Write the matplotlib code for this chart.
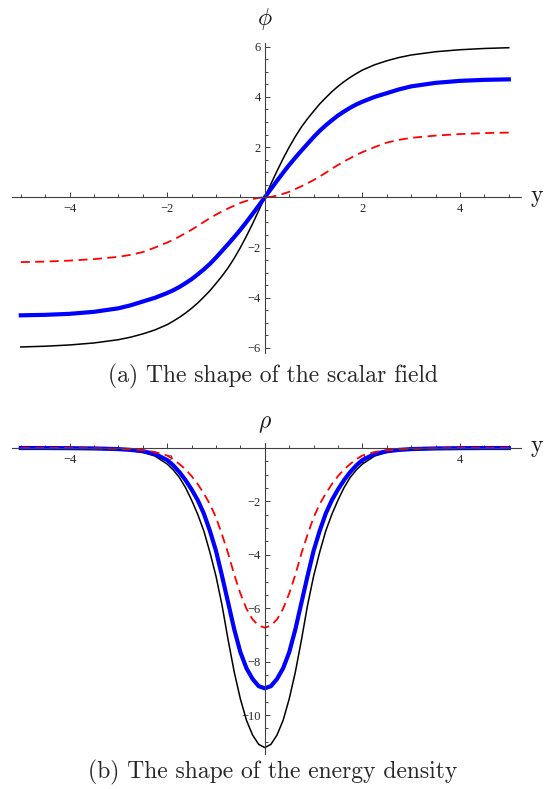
import matplotlib
matplotlib.use("Agg")
import matplotlib.pyplot as plt
from matplotlib.ticker import MultipleLocator, FixedLocator

plt.rcParams['mathtext.fontset'] = 'cm'

# sample positions along y
y_pts = [-5, -4.5, -4, -3.5, -3, -2.75, -2.5, -2.25, -2,
         -1.875, -1.75, -1.625, -1.5, -1.375, -1.25, -1.125, -1,
         -0.875, -0.75, -0.625, -0.5, -0.375, -0.25, -0.125, 0,
         0.125, 0.25, 0.375, 0.5, 0.625, 0.75, 0.875,
         1, 1.125, 1.25, 1.375, 1.5, 1.625, 1.75, 1.875,
         2, 2.25, 2.5, 2.75, 3, 3.5, 4, 4.5, 5]

# (a) scalar field phi(y)
phi_black = [-5.96, -5.93, -5.88, -5.80, -5.67, -5.57, -5.44, -5.28, -5.07,
             -4.93, -4.78, -4.61, -4.42, -4.21, -3.97, -3.72, -3.43,
             -3.13, -2.80, -2.42, -2.00, -1.54, -1.05, -0.53, 0,
             0.53, 1.05, 1.54, 2.00, 2.42, 2.80, 3.13,
             3.43, 3.72, 3.97, 4.21, 4.42, 4.61, 4.78, 4.93,
             5.07, 5.28, 5.44, 5.57, 5.67, 5.80, 5.88, 5.93, 5.96]
phi_blue = [-4.70, -4.68, -4.64, -4.56, -4.42, -4.30, -4.15, -4.00, -3.81,
            -3.70, -3.57, -3.42, -3.26, -3.07, -2.87, -2.65, -2.40,
            -2.13, -1.86, -1.58, -1.29, -0.98, -0.66, -0.33, 0,
            0.33, 0.66, 0.98, 1.29, 1.58, 1.86, 2.13,
            2.40, 2.65, 2.87, 3.07, 3.26, 3.42, 3.57, 3.70,
            3.81, 4.00, 4.15, 4.30, 4.42, 4.56, 4.64, 4.68, 4.70]
phi_red = [-2.58, -2.56, -2.52, -2.46, -2.37, -2.29, -2.18, -2.00, -1.80,
           -1.69, -1.56, -1.43, -1.29, -1.14, -0.98, -0.83, -0.69,
           -0.56, -0.44, -0.33, -0.22, -0.14, -0.07, -0.02, 0,
           0.02, 0.07, 0.14, 0.22, 0.33, 0.44, 0.56,
           0.69, 0.83, 0.98, 1.14, 1.29, 1.43, 1.56, 1.69,
           1.80, 2.00, 2.18, 2.29, 2.37, 2.46, 2.52, 2.56, 2.58]

# (b) energy density rho(y)
rho_black = [0, 0, -0.01, -0.02, -0.05, -0.09, -0.16, -0.30, -0.60,
             -0.82, -1.10, -1.48, -1.95, -2.48, -3.10, -3.90, -4.80,
             -5.90, -7.20, -8.40, -9.40, -10.20, -10.75, -11.10, -11.22,
             -11.10, -10.75, -10.20, -9.40, -8.40, -7.20, -5.90,
             -4.80, -3.90, -3.10, -2.48, -1.95, -1.48, -1.10, -0.82,
             -0.60, -0.30, -0.16, -0.09, -0.05, -0.02, -0.01, 0, 0]
rho_blue = [0, 0, -0.005, -0.015, -0.04, -0.07, -0.12, -0.22, -0.45,
            -0.65, -0.90, -1.20, -1.55, -1.95, -2.45, -3.10, -3.85,
            -4.80, -5.80, -6.80, -7.65, -8.25, -8.65, -8.92, -9.00,
            -8.92, -8.65, -8.25, -7.65, -6.80, -5.80, -4.80,
            -3.85, -3.10, -2.45, -1.95, -1.55, -1.20, -0.90, -0.65,
            -0.45, -0.22, -0.12, -0.07, -0.04, -0.015, -0.005, 0, 0]
rho_red = [0, 0, 0, -0.01, -0.03, -0.05, -0.08, -0.15, -0.28,
           -0.42, -0.60, -0.80, -1.05, -1.35, -1.70, -2.10, -2.60,
           -3.25, -3.95, -4.75, -5.45, -6.02, -6.42, -6.65, -6.73,
           -6.65, -6.42, -6.02, -5.45, -4.75, -3.95, -3.25,
           -2.60, -2.10, -1.70, -1.35, -1.05, -0.80, -0.60, -0.42,
           -0.28, -0.15, -0.08, -0.05, -0.03, -0.01, 0, 0, 0]

W, H = 547, 789
fig = plt.figure(figsize=(W / 100, H / 100), dpi=100)

def px_box(left, top, right, bottom):
    return [left / W, 1 - bottom / H, (right - left) / W, (bottom - top) / H]

tick_font = dict(family='Liberation Serif', size=9)
axis_col = '0.25'

def setup(ax, xlim, ylim, yt):
    ax.set_xlim(*xlim)
    ax.set_ylim(*ylim)
    for s in ['top', 'right']:
        ax.spines[s].set_visible(False)
    ax.spines['left'].set_position(('data', 0))
    ax.spines['bottom'].set_position(('data', 0))
    for s in ['left', 'bottom']:
        ax.spines[s].set_color(axis_col)
        ax.spines[s].set_linewidth(0.8)
    ax.xaxis.set_major_locator(FixedLocator([-4, -2, 2, 4]))
    ax.yaxis.set_major_locator(FixedLocator(yt))
    ax.xaxis.set_minor_locator(MultipleLocator(0.5))
    ax.yaxis.set_minor_locator(MultipleLocator(0.5))
    ax.set_xticklabels(['\u22124', '\u22122', '2', '4'], fontdict=tick_font)
    ax.set_yticklabels([('\u2212' + str(-v)) if v < 0 else str(v) for v in yt], fontdict=tick_font)
    ax.tick_params(which='both', direction='in', color=axis_col, width=0.7, labelcolor='0.15')
    ax.tick_params(which='major', length=3.6)
    ax.tick_params(which='minor', length=2.2)
    ax.tick_params(axis='x', pad=4)
    ax.tick_params(axis='y', pad=3)
    ax.patch.set_alpha(0)

# top panel
ax1 = fig.add_axes(px_box(12, 42.7, 521, 353))
ax1.plot(y_pts, phi_black, color='black', lw=1.1)
ax1.plot(y_pts, phi_blue, color='#0000ff', lw=3.0)
ax1.plot(y_pts, phi_red, color='#ff0000', lw=1.3, linestyle=(0, (5, 3)))
setup(ax1, (-5.18, 5.25), (-6.2, 6.16), [-6, -4, -2, 2, 4, 6])

# bottom panel
ax2 = fig.add_axes(px_box(12, 442.7, 521, 754))
ax2.plot(y_pts, rho_black, color='black', lw=1.1)
ax2.plot(y_pts, rho_blue, color='#0000ff', lw=3.0)
ax2.plot(y_pts, rho_red, color='#ff0000', lw=1.3, linestyle=(0, (5, 3)))
setup(ax2, (-5.18, 5.25), (-11.46, 0.2), [-10, -8, -6, -4, -2])

def ftext(px, py, s, **kw):
    fig.text(px / W, 1 - py / H, s, ha='center', va='center', **kw)

ftext(265, 19, r'$\phi$', size=17, color='0.1')
ftext(265, 423, r'$\rho$', size=17, color='0.1')
ftext(537, 196, 'y', family='cmr10', size=17, color='0.1')
ftext(537, 446, 'y', family='cmr10', size=17, color='0.1')
ftext(273, 376, '(a) The shape of the scalar field', family='cmr10', size=17, color='0.15')
ftext(273, 772, '(b) The shape of the energy density', family='cmr10', size=17, color='0.15')

fig.savefig('out.png', dpi=100)
